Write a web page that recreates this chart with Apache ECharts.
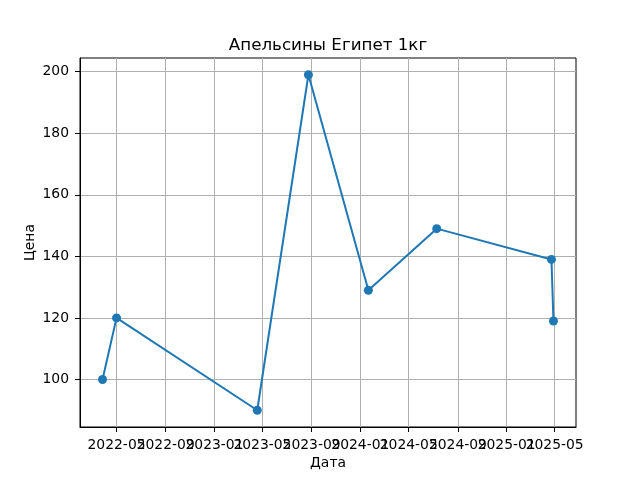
<!DOCTYPE html>
<html>
<head>
<meta charset="utf-8">
<script src="https://cdn.jsdelivr.net/npm/echarts@6/dist/echarts.min.js"></script>
<style>
  html, body { margin: 0; padding: 0; background: #fff; }
  #chart { width: 640px; height: 480px; }
</style>
</head>
<body>
<div id="chart"></div>
<script>
// price data
var dates = ["2022-03-27", "2022-05-01", "2023-04-18", "2023-08-24", "2024-01-21", "2024-07-10", "2025-04-23", "2025-04-28"];
var prices = [100, 120, 90, 199, 129, 149, 139, 119];
var xTicks = ["2022-05-01", "2022-09-01", "2023-01-01", "2023-05-01", "2023-09-01", "2024-01-01", "2024-05-01", "2024-09-01", "2025-01-01", "2025-05-01"];
var yTicks = [100, 120, 140, 160, 180, 200];

function ts(s) { return new Date(s + "T00:00:00").getTime(); }

var xTickValues = xTicks.map(ts);
// labels overlap like in the original, so split them over two axes to stop auto-hiding
var xLabelsA = xTickValues.filter(function (v, i) { return i % 2 === 0; });
var xLabelsB = xTickValues.filter(function (v, i) { return i % 2 === 1; });
var points = dates.map(function (d, i) { return [ts(d), prices[i]]; });

// matplotlib style 5% margins
var tMin = ts(dates[0]), tMax = ts(dates[dates.length - 1]);
var tPad = (tMax - tMin) * 0.05;
var pMin = Math.min.apply(null, prices), pMax = Math.max.apply(null, prices);
var pPad = (pMax - pMin) * 0.05;

var font = "DejaVu Sans";

function monthLabel(v) {
    var d = new Date(v);
    var m = d.getMonth() + 1;
    return d.getFullYear() + "-" + (m < 10 ? "0" + m : m);
}

var dom = document.getElementById("chart");
var myChart = echarts.init(dom);
var option = {
    backgroundColor: "#fff",
    animation: false,
    title: {
        text: "Апельсины Египет 1кг",
        left: 323,
        textAlign: "center",
        top: 32,
        textStyle: { fontFamily: font, fontSize: 16.7, fontWeight: "normal", color: "#000" }
    },
    grid: {
        left: 80, right: 64, top: 58, bottom: 53,
        show: true, borderColor: "#000", borderWidth: 1
    },
    xAxis: [{
        type: "value",
        min: tMin - tPad,
        max: tMax + tPad,
        name: "Дата",
        nameLocation: "middle",
        nameGap: 29,
        nameMoveOverlap: false,
        nameTextStyle: { fontFamily: font, fontSize: 13.9, color: "#000" },
        axisLine: { show: true, lineStyle: { color: "#000", width: 1 } },
        axisTick: { show: true, inside: false, length: 5, customValues: xTickValues, lineStyle: { color: "#000" } },
        axisLabel: {
            customValues: xLabelsA,
            margin: 11,
            showMinLabel: true,
            showMaxLabel: true,
            fontFamily: font, fontSize: 13.9, color: "#000",
            formatter: monthLabel
        },
        splitLine: { show: true, customValues: xTickValues, lineStyle: { color: "#b0b0b0", width: 1 } }
    }, {
        type: "value",
        position: "bottom",
        min: tMin - tPad,
        max: tMax + tPad,
        axisLine: { show: false },
        axisTick: { show: false },
        axisLabel: {
            customValues: xLabelsB,
            margin: 11,
            showMinLabel: true,
            showMaxLabel: true,
            fontFamily: font, fontSize: 13.9, color: "#000",
            formatter: monthLabel
        },
        splitLine: { show: false }
    }],
    yAxis: {
        type: "value",
        min: pMin - pPad,
        max: pMax + pPad,
        name: "Цена",
        nameLocation: "middle",
        nameGap: 43,
        nameMoveOverlap: false,
        nameTextStyle: { fontFamily: font, fontSize: 13.9, color: "#000" },
        axisLine: { show: true, lineStyle: { color: "#000", width: 1 } },
        axisTick: { show: true, inside: false, length: 5, customValues: yTicks, lineStyle: { color: "#000" } },
        axisLabel: { customValues: yTicks, margin: 11, fontFamily: font, fontSize: 13.9, color: "#000" },
        splitLine: { show: true, customValues: yTicks, lineStyle: { color: "#b0b0b0", width: 1 } }
    },
    series: [{
        type: "line",
        xAxisIndex: 0,
        data: points,
        symbol: "circle",
        symbolSize: 9,
        itemStyle: { color: "#1f77b4" },
        lineStyle: { color: "#1f77b4", width: 2 }
    }]
};
if (option && typeof option === "object") {
    myChart.setOption(option, true);
}
</script>
</body>
</html>
